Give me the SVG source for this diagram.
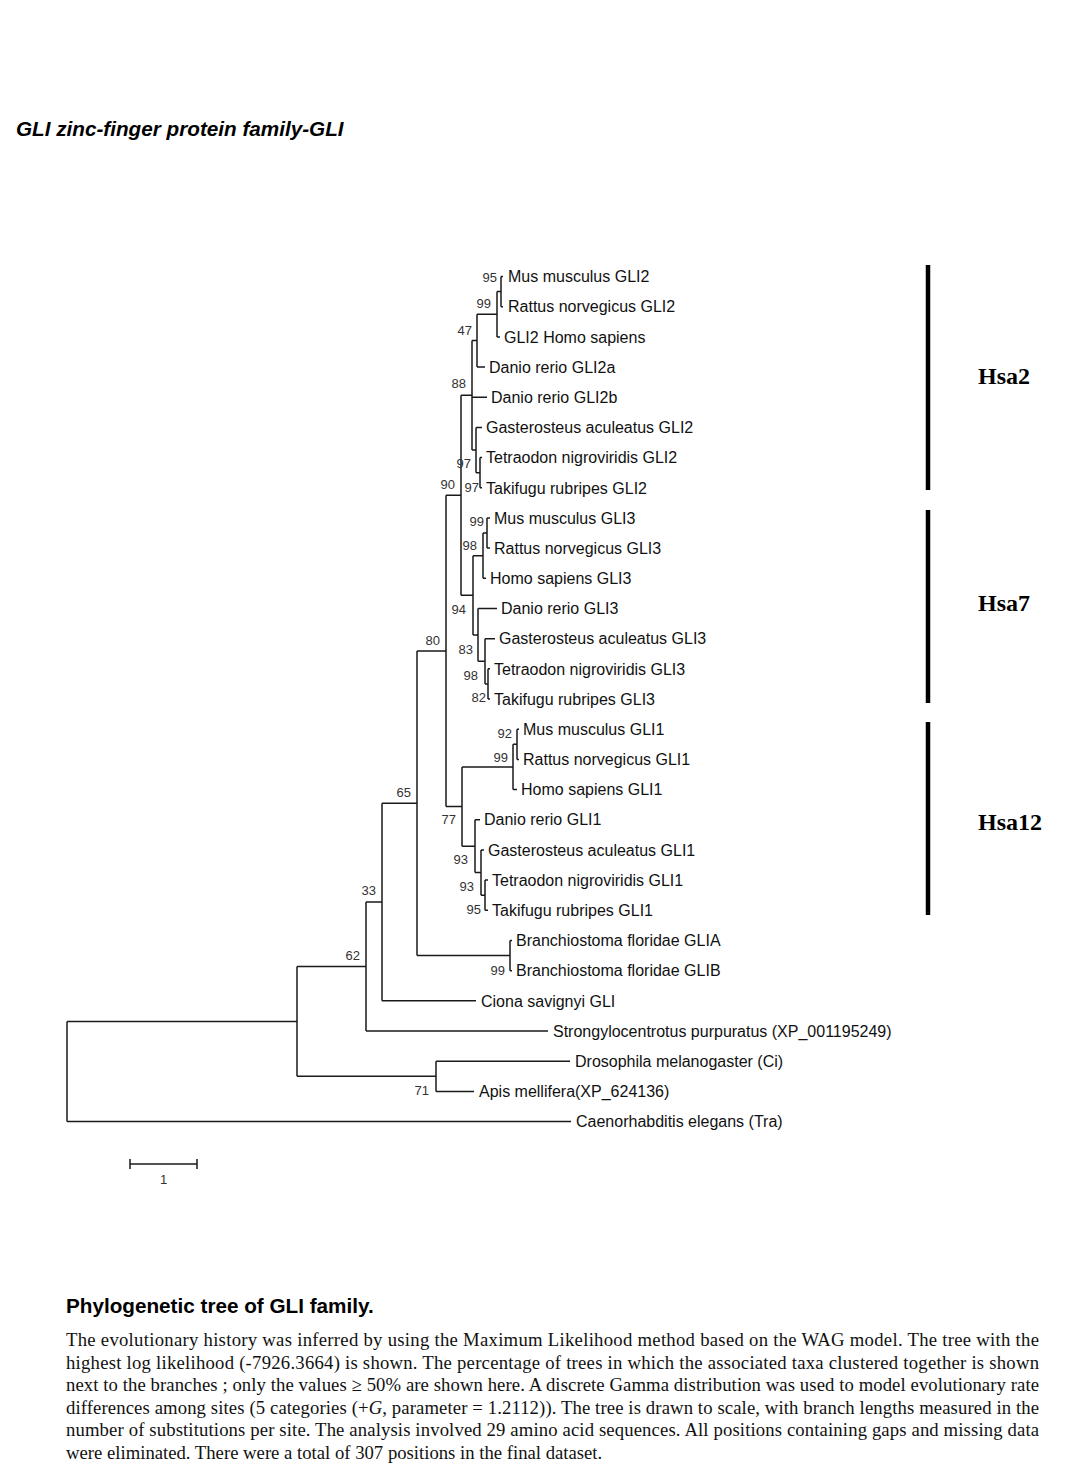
<svg xmlns="http://www.w3.org/2000/svg" width="1079" height="1476" viewBox="0 0 1079 1476">
<style>
.br{fill:none;stroke:#1a1a1a;stroke-width:1.5}
.lf{font-family:"Liberation Sans",Arial,sans-serif;font-size:16px;fill:#111}
.bs{font-family:"Liberation Sans",Arial,sans-serif;font-size:13px;fill:#333;text-anchor:end}
.hsa{font-family:"Liberation Serif","Times New Roman",serif;font-size:24px;font-weight:bold;fill:#000}
.bar{stroke:#000;stroke-width:4.5}
.cap{font-family:"Liberation Serif","Times New Roman",serif;font-size:18.7px;fill:#111}
</style>
<rect width="1079" height="1476" fill="#fff"/>
<text x="16" y="136" style="font-family:'Liberation Sans',Arial,sans-serif;font-size:20.7px;font-weight:bold;font-style:italic" fill="#000">GLI zinc-finger protein family-GLI</text>

<g id="connectors">
<path class="br" d="M501,276.5V306.7M501,276.5H503M501,306.7H503"/>
<path class="br" d="M497,291.6V336.9M497,291.6H501M497,336.9H500"/>
<path class="br" d="M477,314.3V367M477,314.3H497M477,367H485"/>
<path class="br" d="M480,457.6V487.8M480,457.6H482M480,487.8H482"/>
<path class="br" d="M476,427.4V472.7M476,427.4H482M476,472.7H480"/>
<path class="br" d="M472,340.6V450M472,340.6H477M472,397.2H487M472,450H476"/>
<path class="br" d="M487,517.9V548.1M487,517.9H490M487,548.1H490"/>
<path class="br" d="M483,533V578.3M483,533H487M483,578.3H486"/>
<path class="br" d="M488,668.8V699M488,668.8H490M488,699H490"/>
<path class="br" d="M485,638.7V683.9M485,638.7H495M485,683.9H488"/>
<path class="br" d="M478,608.5V661.3M478,608.5H497M478,661.3H485"/>
<path class="br" d="M473,555.7V634.9M473,555.7H483M473,634.9H478"/>
<path class="br" d="M461,395.3V595.3M461,395.3H472M461,595.3H473"/>
<path class="br" d="M517,729.2V759.4M517,729.2H519M517,759.4H519"/>
<path class="br" d="M513,744.3V789.6M513,744.3H517M513,789.6H517"/>
<path class="br" d="M485,880.1V910.3M485,880.1H488M485,910.3H488"/>
<path class="br" d="M481,849.9V895.2M481,849.9H484M481,895.2H485"/>
<path class="br" d="M475,819.7V872.6M475,819.7H480M475,872.6H481"/>
<path class="br" d="M462,767V846.2M462,767H513M462,846.2H475"/>
<path class="br" d="M446,495.3V806.6M446,495.3H461M446,806.6H462"/>
<path class="br" d="M510,940.5V970.7M510,940.5H512M510,970.7H512"/>
<path class="br" d="M417,651V955.6M417,651H446M417,955.6H510"/>
<path class="br" d="M382,803.3V1000.8M382,803.3H417M382,1000.8H476"/>
<path class="br" d="M366,902V1031M366,902H382M366,1031H548"/>
<path class="br" d="M436,1061.2V1091.4M436,1061.2H570M436,1091.4H474"/>
<path class="br" d="M297,966.5V1076.3M297,966.5H366M297,1076.3H436"/>
<path class="br" d="M67,1021.4V1121.5M67,1021.4H297M67,1121.5H571"/>
</g>

<g id="bootstrap">
<g id="n95a"><text class="bs" x="497" y="281.5">95</text></g>
<g id="n99a"><text class="bs" x="491" y="307.5">99</text></g>
<g id="n47"><text class="bs" x="472" y="334.5">47</text></g>
<g id="n88"><text class="bs" x="466" y="388">88</text></g>
<g id="n97a"><text class="bs" x="471" y="468">97</text></g>
<g id="n90"><text class="bs" x="455" y="489">90</text></g>
<g id="n97b"><text class="bs" x="479" y="492">97</text></g>
<g id="n99c"><text class="bs" x="484" y="525.5">99</text></g>
<g id="n98c"><text class="bs" x="477" y="549.5">98</text></g>
<g id="n94"><text class="bs" x="466" y="613.5">94</text></g>
<g id="n80"><text class="bs" x="440" y="644.5">80</text></g>
<g id="n83"><text class="bs" x="473" y="653.5">83</text></g>
<g id="n98d"><text class="bs" x="478" y="679.5">98</text></g>
<g id="n82"><text class="bs" x="486" y="701.5">82</text></g>
<g id="n92"><text class="bs" x="512" y="737.5">92</text></g>
<g id="n99e"><text class="bs" x="508" y="761.5">99</text></g>
<g id="n65"><text class="bs" x="411" y="796.5">65</text></g>
<g id="n77"><text class="bs" x="456" y="823.5">77</text></g>
<g id="n93a"><text class="bs" x="468" y="863.5">93</text></g>
<g id="n93b"><text class="bs" x="474" y="890.5">93</text></g>
<g id="n95f"><text class="bs" x="481" y="913.5">95</text></g>
<g id="n33"><text class="bs" x="376" y="894.5">33</text></g>
<g id="n62"><text class="bs" x="360" y="959.5">62</text></g>
<g id="n99br"><text class="bs" x="505" y="974.5">99</text></g>
<g id="n71"><text class="bs" x="429" y="1094.5">71</text></g>
</g>

<g id="leaves">
<g id="leaf-mus-gli2"><text class="lf" x="508" y="282.2">Mus musculus GLI2</text></g>
<g id="leaf-rattus-gli2"><text class="lf" x="508" y="312.4">Rattus norvegicus GLI2</text></g>
<g id="leaf-homo-gli2"><text class="lf" x="504" y="342.6">GLI2 Homo sapiens</text></g>
<g id="leaf-danio-gli2a"><text class="lf" x="489" y="372.7">Danio rerio GLI2a</text></g>
<g id="leaf-danio-gli2b"><text class="lf" x="491" y="402.9">Danio rerio GLI2b</text></g>
<g id="leaf-gast-gli2"><text class="lf" x="486" y="433.1">Gasterosteus aculeatus GLI2</text></g>
<g id="leaf-tetra-gli2"><text class="lf" x="486" y="463.3">Tetraodon nigroviridis GLI2</text></g>
<g id="leaf-taki-gli2"><text class="lf" x="486" y="493.5">Takifugu rubripes GLI2</text></g>
<g id="leaf-mus-gli3"><text class="lf" x="494" y="523.6">Mus musculus GLI3</text></g>
<g id="leaf-rattus-gli3"><text class="lf" x="494" y="553.8">Rattus norvegicus GLI3</text></g>
<g id="leaf-homo-gli3"><text class="lf" x="490" y="584">Homo sapiens GLI3</text></g>
<g id="leaf-danio-gli3"><text class="lf" x="501" y="614.2">Danio rerio GLI3</text></g>
<g id="leaf-gast-gli3"><text class="lf" x="499" y="644.4">Gasterosteus aculeatus GLI3</text></g>
<g id="leaf-tetra-gli3"><text class="lf" x="494" y="674.5">Tetraodon nigroviridis GLI3</text></g>
<g id="leaf-taki-gli3"><text class="lf" x="494" y="704.7">Takifugu rubripes GLI3</text></g>
<g id="leaf-mus-gli1"><text class="lf" x="523" y="734.9">Mus musculus GLI1</text></g>
<g id="leaf-rattus-gli1"><text class="lf" x="523" y="765.1">Rattus norvegicus GLI1</text></g>
<g id="leaf-homo-gli1"><text class="lf" x="521" y="795.3">Homo sapiens GLI1</text></g>
<g id="leaf-danio-gli1"><text class="lf" x="484" y="825.4">Danio rerio GLI1</text></g>
<g id="leaf-gast-gli1"><text class="lf" x="488" y="855.6">Gasterosteus aculeatus GLI1</text></g>
<g id="leaf-tetra-gli1"><text class="lf" x="492" y="885.8">Tetraodon nigroviridis GLI1</text></g>
<g id="leaf-taki-gli1"><text class="lf" x="492" y="916">Takifugu rubripes GLI1</text></g>
<g id="leaf-branch-glia"><text class="lf" x="516" y="946.2">Branchiostoma floridae GLIA</text></g>
<g id="leaf-branch-glib"><text class="lf" x="516" y="976.4">Branchiostoma floridae GLIB</text></g>
<g id="leaf-ciona"><text class="lf" x="481" y="1006.5">Ciona savignyi GLI</text></g>
<g id="leaf-strongylo"><text class="lf" x="553" y="1036.7">Strongylocentrotus purpuratus (XP_001195249)</text></g>
<g id="leaf-drosophila"><text class="lf" x="575" y="1066.9">Drosophila melanogaster (Ci)</text></g>
<g id="leaf-apis"><text class="lf" x="479" y="1097.1">Apis mellifera(XP_624136)</text></g>
<g id="leaf-caeno"><text class="lf" x="576" y="1127.2">Caenorhabditis elegans (Tra)</text></g>
</g>

<g id="chromosomes">
<g id="hsa2"><line class="bar" x1="928" y1="265" x2="928" y2="490"/><text class="hsa" x="978" y="384">Hsa2</text></g>
<g id="hsa7"><line class="bar" x1="928" y1="510" x2="928" y2="703"/><text class="hsa" x="978" y="611">Hsa7</text></g>
<g id="hsa12"><line class="bar" x1="928" y1="722" x2="928" y2="915"/><text class="hsa" x="978" y="830">Hsa12</text></g>
</g>

<g id="scale-bar">
<path class="br" d="M130,1164H197M130,1159V1169M197,1159V1169"/>
<text x="163.5" y="1183.5" text-anchor="middle" style="font-family:'Liberation Sans',Arial,sans-serif;font-size:13px" fill="#333">1</text>
</g>

<g id="caption">
<text x="66" y="1313" style="font-family:'Liberation Sans',Arial,sans-serif;font-size:20.7px;font-weight:bold" fill="#000">Phylogenetic tree of GLI family.</text>
<text class="cap" x="66" y="1346" textLength="973" lengthAdjust="spacing">The evolutionary history was inferred by using the Maximum Likelihood method based on the WAG model. The tree with the</text>
<text class="cap" x="66" y="1368.5" textLength="973" lengthAdjust="spacing">highest log likelihood (-7926.3664) is shown. The percentage of trees in which the associated taxa clustered together is shown</text>
<text class="cap" x="66" y="1391" textLength="973" lengthAdjust="spacing">next to the branches ; only the values ≥ 50% are shown here. A discrete Gamma distribution was used to model evolutionary rate</text>
<text class="cap" x="66" y="1413.5" textLength="973" lengthAdjust="spacing">differences among sites (5 categories (+<tspan font-style="italic">G</tspan>, parameter = 1.2112)). The tree is drawn to scale, with branch lengths measured in the</text>
<text class="cap" x="66" y="1436" textLength="973" lengthAdjust="spacing">number of substitutions per site. The analysis involved 29 amino acid sequences. All positions containing gaps and missing data</text>
<text class="cap" x="66" y="1458.5">were eliminated. There were a total of 307 positions in the final dataset.</text>
</g>
</svg>
